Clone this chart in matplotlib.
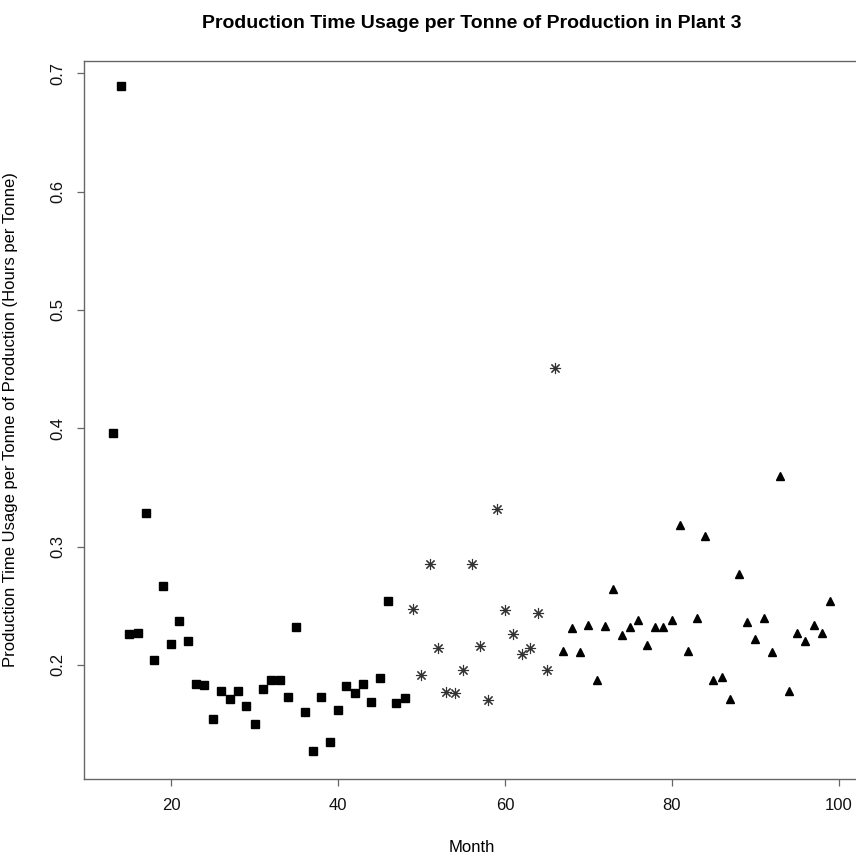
import matplotlib
matplotlib.use("Agg")
import matplotlib.pyplot as plt

plt.rcParams["font.family"] = ["Liberation Sans", "DejaVu Sans"]

# months shown with filled squares, asterisks and triangles
sq_month = list(range(13, 49))
sq_value = [0.396, 0.689, 0.226, 0.227, 0.328, 0.204, 0.267, 0.218, 0.237,
            0.220, 0.184, 0.183, 0.154, 0.178, 0.171, 0.178, 0.165, 0.150,
            0.180, 0.187, 0.187, 0.173, 0.232, 0.160, 0.127, 0.173, 0.135,
            0.162, 0.182, 0.176, 0.184, 0.169, 0.189, 0.254, 0.168, 0.172]

ast_month = list(range(49, 67))
ast_value = [0.247, 0.191, 0.285, 0.214, 0.177, 0.176, 0.196, 0.285, 0.216,
             0.170, 0.332, 0.246, 0.226, 0.209, 0.214, 0.244, 0.196, 0.451]

tri_month = list(range(67, 100))
tri_value = [0.212, 0.231, 0.211, 0.234, 0.187, 0.233, 0.264, 0.225, 0.232,
             0.238, 0.217, 0.232, 0.232, 0.238, 0.318, 0.212, 0.240, 0.309,
             0.187, 0.190, 0.171, 0.277, 0.236, 0.222, 0.240, 0.211, 0.360,
             0.178, 0.227, 0.220, 0.234, 0.227, 0.254]

W, H = 856, 859
fig = plt.figure(figsize=(W / 100, H / 100), dpi=100)
left, right, top, bottom = 84, 859, 61, 779
ax = fig.add_axes([left / W, (H - bottom) / H, (right - left) / W, (bottom - top) / H])

ax.plot(sq_month, sq_value, "s", color="black", markersize=5.4, linestyle="none")
ax.plot(ast_month, ast_value, marker=(8, 2, 0), color="#333333", markersize=8,
        markeredgewidth=0.8, linestyle="none")
ax.plot(tri_month, tri_value, "^", color="black", markersize=6.2, linestyle="none")

ax.set_xlim(9.56, 102.44)
ax.set_ylim(0.1035, 0.7105)
ax.set_xticks([20, 40, 60, 80, 100])
ax.set_yticks([0.2, 0.3, 0.4, 0.5, 0.6, 0.7])
ax.set_yticklabels(["0.2", "0.3", "0.4", "0.5", "0.6", "0.7"], rotation=90, va="center")

for s in ax.spines.values():
    s.set_color("#666666")
    s.set_linewidth(1.0)
ax.tick_params(direction="out", length=5, width=0.9, color="#666666",
               labelsize=12, labelcolor="#111111")
ax.tick_params(axis="x", pad=9)
ax.tick_params(axis="y", pad=8.5)

fig.text(472 / W, 1 - 27.5 / H, "Production Time Usage per Tonne of Production in Plant 3",
         ha="center", va="baseline", fontsize=14, fontweight="bold")
fig.text(472 / W, 1 - 847 / H, "Month", ha="center", va="center", fontsize=12)
fig.text(11 / W, 1 - 420 / H,
         "Production Time Usage per Tonne of Production (Hours per Tonne)",
         ha="center", va="center", rotation=90, fontsize=12)

fig.savefig("out.png", dpi=100)
